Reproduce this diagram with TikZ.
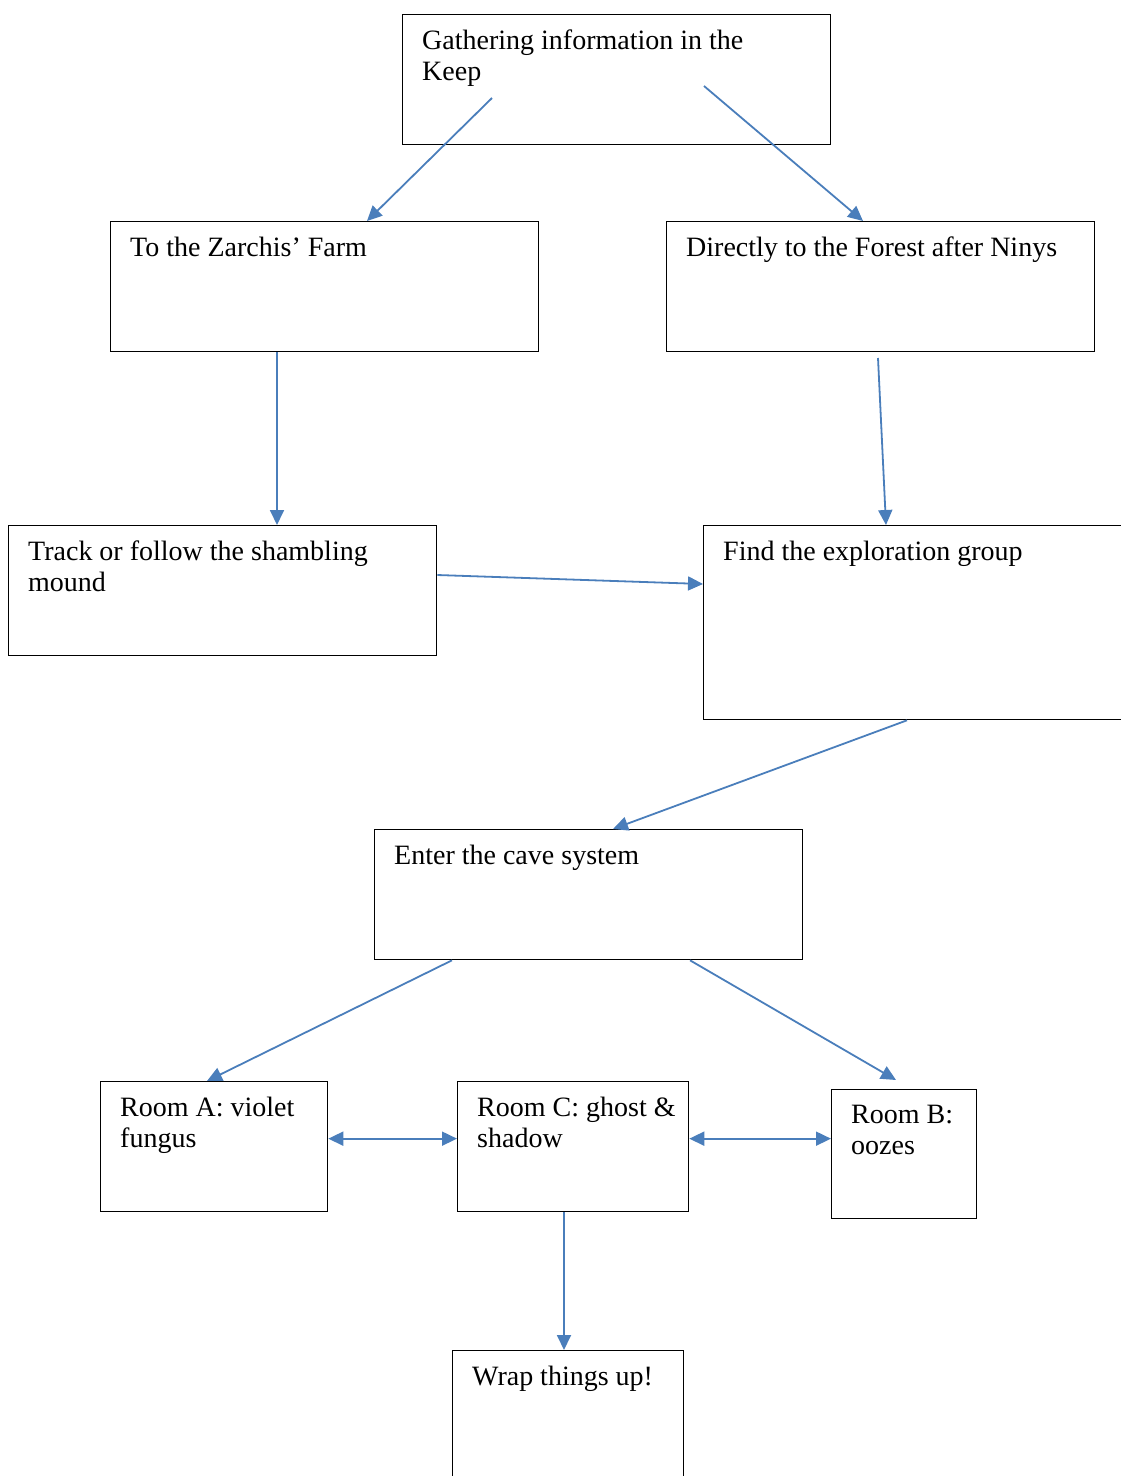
\documentclass[tikz,border=0pt]{standalone}
\usepackage{fontspec}
\setmainfont{Liberation Serif}
\usetikzlibrary{arrows.meta}

\definecolor{linkblue}{RGB}{74,126,187}

\tikzset{
	box/.style = {draw, line width=1.3pt, minimum width=#1,
		minimum height=130, anchor=north west, inner sep=0pt},
	boxtext/.style = {anchor=north west, align=left, inner sep=0pt,
		font=\fontsize{28}{31}\selectfont},
	link/.style = {draw=linkblue, line width=1.8pt,
		-{Triangle[length=15pt,width=14pt]}},
	twolink/.style = {link, {Triangle[length=15pt,width=14pt]}-{Triangle[length=15pt,width=14pt]}},
}

\begin{document}
\begin{tikzpicture}[x=1pt, y=-1pt]
	\useasboundingbox (0,0) rectangle (1120,1476);
	
	% boxes
	\node [box=428] (keep)   at (402,14)   {};
	\node [box=428] (farm)   at (110,221)  {};
	\node [box=428] (forest) at (666,221)  {};
	\node [box=428] (track)  at (8,525)    {};
	\node [box=430, minimum height=194] (find) at (703,525) {};
	\node [box=428] (cave)   at (374,829)  {};
	\node [box=227] (roomA)  at (100,1081) {};
	\node [box=231] (roomC)  at (457,1081) {};
	\node [box=145, minimum height=129] (roomB) at (831,1089) {};
	\node [box=231] (wrap)   at (452,1350) {};
	
	% texts
	\node [boxtext] (keep-t)   at ([xshift=20, yshift=-16]keep.north west)   {Gathering information in the\\Keep};
	\node [boxtext] (farm-t)   at ([xshift=20, yshift=-16]farm.north west)   {To the Zarchis’ Farm};
	\node [boxtext] (forest-t) at ([xshift=20, yshift=-16]forest.north west) {Directly to the Forest after Ninys};
	\node [boxtext] (track-t)  at ([xshift=20, yshift=-16]track.north west)  {Track or follow the shambling\\mound};
	\node [boxtext] (find-t)   at ([xshift=20, yshift=-16]find.north west)   {Find the exploration group};
	\node [boxtext] (cave-t)   at ([xshift=20, yshift=-16]cave.north west)   {Enter the cave system};
	\node [boxtext] (roomA-t)  at ([xshift=20, yshift=-16]roomA.north west)  {Room A: violet\\fungus};
	\node [boxtext] (roomC-t)  at ([xshift=20, yshift=-16]roomC.north west)  {Room C: ghost \&\\shadow};
	\node [boxtext] (roomB-t)  at ([xshift=20, yshift=-16]roomB.north west)  {Room B:\\oozes};
	\node [boxtext] (wrap-t)   at ([xshift=20, yshift=-16]wrap.north west)   {Wrap things up!};
	
	% free starts
	\coordinate (keepL)   at (492,98);
	\coordinate (keepR)   at (704,86);
	\coordinate (forestB) at (878,358);
	
	% connectors
	\draw [link] (keepL) -- ([xshift=257]farm.north west);
	\draw [link] (keepR) -- ([xshift=197]forest.north west);
	\draw [link] ([xshift=167]farm.south west) -- ([xshift=269]track.north west);
	\draw [link] (forestB) -- ([xshift=183]find.north west);
	\draw [link] ([yshift=-50]track.north east) -- ([yshift=-59]find.north west);
	\draw [link] ([xshift=204]find.south west) -- ([xshift=239]cave.north west);
	\draw [link] ([xshift=78]cave.south west) -- ([xshift=107]roomA.north west);
	\draw [link] ([xshift=316]cave.south west) -- ([xshift=65, yshift=9]roomB.north west);
	\draw [twolink] ([yshift=8]roomA.east) -- ([yshift=8]roomC.west);
	\draw [twolink] ([yshift=8]roomC.east) -- ([yshift=8]roomC.east -| roomB.west);
	\draw [link] ([xshift=107]roomC.south west) -- ([xshift=112]wrap.north west);
	
\end{tikzpicture}
\end{document}
